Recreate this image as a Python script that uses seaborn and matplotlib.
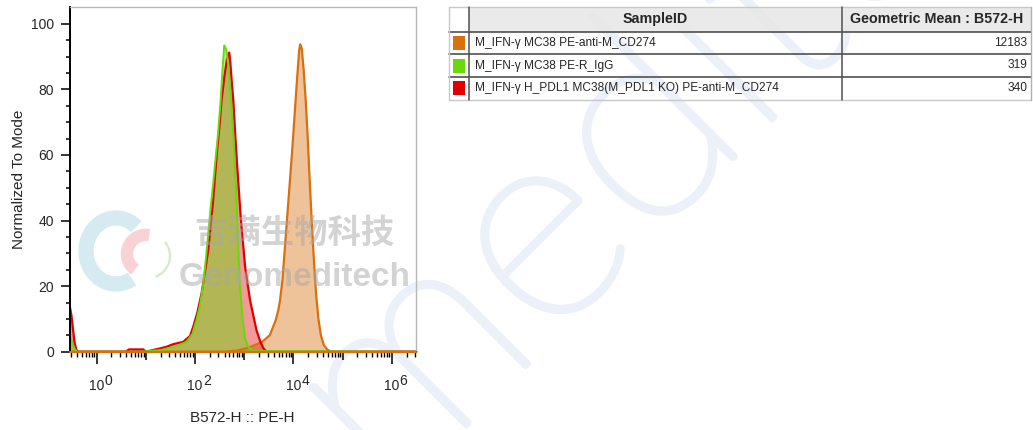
import numpy as np
import matplotlib
matplotlib.use("Agg")
import matplotlib.pyplot as plt
import matplotlib.transforms as mtransforms
import matplotlib.patheffects as pe
from matplotlib.patches import Rectangle, Arc
import seaborn as sns

# histogram traces, x in log10 units of B572-H, y = % of mode
orange_x = [-0.54, 2.6, 2.85, 3.1, 3.35, 3.52, 3.64, 3.70, 3.73, 3.78, 3.83, 3.88, 3.93, 3.98, 4.03, 4.08,
            4.12, 4.14, 4.17, 4.21, 4.25, 4.29, 4.33, 4.37, 4.41, 4.46, 4.51, 4.56, 4.62, 4.70, 4.78, 6.5]
orange_y = [0, 0, 0.3, 1.3, 2.8, 5.0, 9.5, 13, 15.7, 22, 32, 42, 52, 62, 73, 84,
            92, 93.7, 92.5, 86, 77, 66, 53, 41, 30, 18, 10, 5, 2, 0.5, 0, 0]

green_x = [-0.54, -0.50, -0.45, -0.40, 0.9, 1.3, 1.6, 1.83, 1.95, 2.03, 2.10, 2.17, 2.22, 2.27, 2.32, 2.37,
           2.42, 2.47, 2.52, 2.56, 2.596, 2.64, 2.68, 2.71, 2.745, 2.78, 2.83, 2.87, 2.91, 2.97, 3.02, 3.08,
           3.2, 6.5]
green_y = [4.5, 3.0, 1.0, 0, 0, 0.5, 1.6, 3.0, 5.5, 9.7, 14, 20.8, 28, 36, 44, 51.3,
           59, 66.5, 76, 86, 93.4, 92, 87, 81.7, 74, 66.5, 51.3, 36, 21, 9.7, 4, 1.5,
           0.2, 0]

red_x = [-0.54, -0.51, -0.48, -0.45, -0.41, -0.38, 0.6, 0.66, 0.95, 1.0, 1.29, 1.42, 1.56, 1.76, 1.9, 1.965,
         2.05, 2.135, 2.20, 2.27, 2.32, 2.37, 2.41, 2.45, 2.50, 2.54, 2.60, 2.65, 2.697, 2.72, 2.75, 2.78,
         2.82, 2.86, 2.93, 3.02, 3.12, 3.25, 3.33, 3.39, 3.45, 6.5]
red_y = [13.5, 11, 7, 3, 0.5, 0, 0, 0.7, 0.7, 0, 1.0, 1.5, 2.3, 3.0, 4.8, 7.6,
         12, 17.8, 24, 31, 38.5, 46.2, 54, 61.4, 69, 76.6, 84, 89, 91.2, 88, 82, 76.6,
         66, 56.3, 41.1, 25.9, 15.7, 6.6, 3, 1.1, 0, 0]

sample_ids = ["M_IFN-γ MC38 PE-anti-M_CD274",
              "M_IFN-γ MC38 PE-R_IgG",
              "M_IFN-γ H_PDL1 MC38(M_PDL1 KO) PE-anti-M_CD274"]
geo_means = ["12183", "319", "340"]
sample_colors = ["#D9700F", "#6CD70A", "#E00000"]

y_ticks = [0, 20, 40, 60, 80, 100]
x_label_decades = [0, 2, 4, 6]

sns.set_style("ticks")
plt.rcParams['font.family'] = ['Liberation Sans', 'DejaVu Sans']

W, H = 1033, 430
fig = plt.figure(figsize=(W / 100, H / 100), dpi=100, facecolor='white')

def py(y):
    return H - y

# background layer (watermark strokes)
bg = fig.add_axes([0, 0, 1, 1], zorder=0)
bg.set_xlim(0, W)
bg.set_ylim(0, H)
bg.axis('off')
bg.text(490, py(295), "Genomeditech", rotation=45, rotation_mode='anchor', ha='center', va='center',
        fontsize=200, fontweight='light', family=['Lato', 'DejaVu Sans'], color='#EBF0F9',
        path_effects=[pe.withStroke(linewidth=4.5, foreground='#EBF0F9')])

ax = fig.add_axes([70 / W, 78.3 / H, 346.3 / W, 344.4 / H], zorder=2)
ax.patch.set_alpha(0)

ax.fill_between(orange_x, orange_y, color=sample_colors[0], alpha=0.42, lw=0)
sns.lineplot(x=orange_x, y=orange_y, color=sample_colors[0], lw=1.6, sort=False, ax=ax, clip_on=False)
ax.fill_between(red_x, red_y, color=sample_colors[2], alpha=0.4, lw=0)
ax.fill_between(green_x, green_y, color=sample_colors[1], alpha=0.48, lw=0)
sns.lineplot(x=red_x, y=red_y, color=sample_colors[2], lw=1.6, sort=False, ax=ax, clip_on=False)
sns.lineplot(x=green_x, y=green_y, color=sample_colors[1], lw=1.4, sort=False, ax=ax, clip_on=False)
ax.plot([orange_x[0], orange_x[-1]], [0, 0], color=sample_colors[0], lw=1.6, clip_on=False, zorder=5)

ax.set_xlim(-0.54, 6.5)
ax.set_ylim(0, 105)

ax.set_yticks(y_ticks)
ax.set_yticks(np.arange(0, 105, 5), minor=True)
ax.tick_params(axis='y', which='major', length=6.5, width=1.1, labelsize=10, pad=5, color='black')
ax.tick_params(axis='y', which='minor', length=3, width=1.1, color='black')

ax.set_xticks(x_label_decades)
ax.set_xticklabels(['10'] * len(x_label_decades))
minor = [d + np.log10(k) for d in range(-1, 7) for k in range(2, 10)]
minor = [m for m in minor if -0.54 <= m <= 6.5]
ax.set_xticks(minor, minor=True)
ax.tick_params(axis='x', which='major', length=8.6, width=1.1, labelsize=10, pad=11, color='black')
ax.tick_params(axis='x', which='minor', length=3.5, width=1.0, color='black')
sec = ax.secondary_xaxis('bottom')
sec.set_xticks([1, 3, 5])
sec.set_xticklabels([])
sec.tick_params(length=6, width=1.1, color='black')
sec.spines['bottom'].set_visible(False)

# decade exponents
trans = mtransforms.offset_copy(ax.get_xaxis_transform(), fig=fig, x=8, y=0, units='dots')
for d in x_label_decades:
    ax.text(d, (351.7 - 385) / 344.4, str(d), transform=trans, ha='left', va='baseline',
            fontsize=10, clip_on=False)

ax.set_xlabel("B572-H :: PE-H", fontsize=11)
ax.set_ylabel("Normalized To Mode", fontsize=11)
ax.xaxis.set_label_coords(0.498, -0.172)
ax.yaxis.set_label_coords(-0.128, 0.5)

for s in ['left', 'bottom']:
    ax.spines[s].set_color('black')
    ax.spines[s].set_linewidth(1.4)
for s in ['top', 'right']:
    ax.spines[s].set_color('#B8B8B8')
    ax.spines[s].set_linewidth(1.0)

# overlay: table + logo watermark
ov = fig.add_axes([0, 0, 1, 1], zorder=10)
ov.set_xlim(0, W)
ov.set_ylim(0, H)
ov.axis('off')
ov.patch.set_alpha(0)

col_x = [449.3, 469.3, 842, 1031]
row_y = [6.7, 31.7, 54.3, 76.7, 100]
ov.add_patch(Rectangle((col_x[1], py(row_y[1])), col_x[3] - col_x[1], row_y[1] - row_y[0],
                       facecolor='#E8E8E8', edgecolor='none', alpha=0.9))
ov.plot([col_x[0], col_x[3]], [py(row_y[0])] * 2, color='#C8C8C8', lw=1)
ov.plot([col_x[0], col_x[3]], [py(row_y[-1])] * 2, color='#C8C8C8', lw=1)
for y in row_y[1:-1]:
    ov.plot([col_x[0], col_x[3]], [py(y)] * 2, color='#505050', lw=1.2)
ov.plot([col_x[0]] * 2, [py(row_y[0]), py(row_y[-1])], color='#C8C8C8', lw=1)
ov.plot([col_x[3]] * 2, [py(row_y[0]), py(row_y[-1])], color='#B0B0B0', lw=1)
for x in col_x[1:3]:
    ov.plot([x] * 2, [py(row_y[0]), py(row_y[-1])], color='#505050', lw=1.1)

ov.text((col_x[1] + col_x[2]) / 2, py((row_y[0] + row_y[1]) / 2), "SampleID",
        ha='center', va='center', fontsize=10.3, fontweight='bold')
ov.text((col_x[2] + col_x[3]) / 2, py((row_y[0] + row_y[1]) / 2), "Geometric Mean : B572-H",
        ha='center', va='center', fontsize=10.3, fontweight='bold')
for i, (sid, gm, c) in enumerate(zip(sample_ids, geo_means, sample_colors)):
    yc = (row_y[i + 1] + row_y[i + 2]) / 2
    ov.add_patch(Rectangle((452.7, py(yc + 7)), 12.6, 14, facecolor=c, edgecolor='none'))
    ov.text(475, py(yc), sid, ha='left', va='center', fontsize=8.6)
    ov.text(1027, py(yc), gm, ha='right', va='center', fontsize=8.6)

ov.add_patch(Arc((116, py(251)), 60, 66, theta1=50, theta2=300, color='#CFE7F0', lw=11, alpha=0.85))
ov.add_patch(Arc((146, py(254)), 38, 38, theta1=80, theta2=235, color='#F6C4C6', lw=9, alpha=0.75))
ov.add_patch(Arc((148, py(256)), 44, 44, theta1=-70, theta2=40, color='#D5EBC5', lw=1.6))
ov.text(294, py(233), "吉满生物科技", ha='center', va='center', fontsize=24, fontweight='bold',
        family=['Noto Sans CJK SC', 'DejaVu Sans'], color='#A8A8A8', alpha=0.5)
ov.text(295, py(277), "Genomeditech", ha='center', va='center', fontsize=24, fontweight='bold',
        color='#A8A8A8', alpha=0.5)

fig.savefig("out.png", dpi=100, facecolor='white')
